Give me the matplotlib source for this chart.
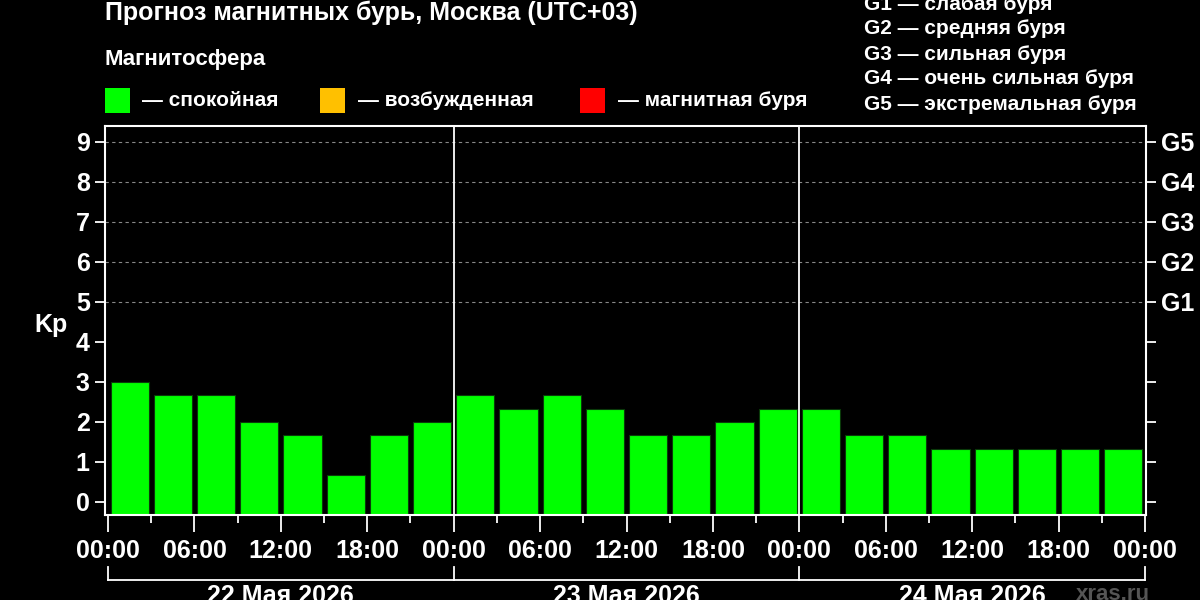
import numpy as np
import matplotlib
matplotlib.use("Agg")
import matplotlib.pyplot as plt
import matplotlib.patches as patches
from matplotlib.ticker import FixedLocator

plt.rcParams['font.family'] = ['Liberation Sans', 'DejaVu Sans']
plt.rcParams['font.weight'] = 'bold'

# Kp forecast, 3-hour intervals over three days
kp_day1 = [3.0, 2.67, 2.67, 2.0, 1.67, 0.67, 1.67, 2.0]
kp_day2 = [2.67, 2.33, 2.67, 2.33, 1.67, 1.67, 2.0, 2.33]
kp_day3 = [2.33, 1.67, 1.67, 1.33, 1.33, 1.33, 1.33, 1.33]
day_labels = ["22 Мая 2026", "23 Мая 2026", "24 Мая 2026"]
hour_labels = ["00:00", "06:00", "12:00", "18:00"]
g_levels = [5, 6, 7, 8, 9]
g_labels = ["G1", "G2", "G3", "G4", "G5"]
g_descr = ["слабая буря", "средняя буря", "сильная буря",
           "очень сильная буря", "экстремальная буря"]
legend_names = ["— спокойная", "— возбужденная", "— магнитная буря"]
legend_colors = ["#00ff00", "#ffc000", "#ff0000"]

kp = np.array(kp_day1 + kp_day2 + kp_day3)
starts = np.arange(len(kp)) * 3.0
ndays = len(day_labels)

W, H = 1200, 600
fig = plt.figure(figsize=(12, 6), dpi=100, facecolor='black')

def fx(px):
    return px / W

def fy(py):
    return 1 - py / H

TICK_FS = 18

ax = fig.add_axes([fx(105), fy(515), fx(1146) - fx(105), fy(126) - fy(515)])
ax.set_facecolor('black')
ymin = -0.33
ax.set_xlim(-0.21, 72.07)
ax.set_ylim(ymin, 9.4)

ax.bar(starts + 1.5, kp - ymin, bottom=ymin, width=2.65,
       color='#00ff00', edgecolor='#0a3a0a', linewidth=0.8, zorder=2)

for lv in g_levels:
    ax.axhline(lv, color='#888888', lw=0.8, ls=(0, (3, 3)), zorder=1)
for d in range(1, ndays):
    ax.axvline(d * 24, color='white', lw=1.3, zorder=3)

for s in ax.spines.values():
    s.set_color('white')
    s.set_linewidth(1.5)

# left y axis
ax.set_yticks(range(0, 10))
ax.tick_params(axis='y', colors='white', labelsize=TICK_FS, length=7, width=1.3, pad=4)
for t in ax.get_yticklabels():
    t.set_fontweight('bold')

# x axis
ax.set_xticks(np.arange(0, 72.1, 6))
ax.set_xticklabels((hour_labels * ndays) + ["00:00"])
ax.xaxis.set_minor_locator(FixedLocator(np.arange(3, 72, 6)))
ax.tick_params(axis='x', which='major', colors='white', labelsize=TICK_FS, length=12, width=1.3, pad=5)
ax.tick_params(axis='x', which='minor', colors='white', length=6, width=1.3)
for t in ax.get_xticklabels():
    t.set_fontweight('bold')

# right axis with storm levels
ax2 = ax.twinx()
ax2.set_ylim(ax.get_ylim())
ax2.set_yticks(range(0, 10))
ax2.set_yticklabels([""] * 5 + g_labels)
ax2.tick_params(axis='y', colors='white', labelsize=TICK_FS, length=7, width=1.3, pad=4)
for t in ax2.get_yticklabels():
    t.set_fontweight('bold')
for s in ax2.spines.values():
    s.set_visible(False)

fig.text(fx(51), fy(325), "Kp", color='white', fontsize=TICK_FS, fontweight='bold',
         ha='center', va='center')

# day brackets under the hour labels
x0, x1 = ax.get_xlim()
def hx(h):
    return fx(105) + (h - x0) / (x1 - x0) * (fx(1146) - fx(105))

fig.add_artist(plt.Line2D([hx(0), hx(72)], [fy(580), fy(580)], color='white', lw=1.3))
for d in range(ndays + 1):
    fig.add_artist(plt.Line2D([hx(d * 24)] * 2, [fy(567), fy(580)], color='white', lw=1.3))
for d, lab in enumerate(day_labels):
    fig.text(hx(d * 24 + 12), fy(584), lab, color='white', fontsize=TICK_FS,
             fontweight='bold', ha='center', va='top')
fig.text(fx(1150), fy(584), "xras.ru", color='#555555', fontsize=16,
         ha='right', va='top')

# header texts
fig.text(fx(105), fy(13), "Прогноз магнитных бурь, Москва (UTC+03)", color='white',
         fontsize=18, fontweight='bold', ha='left', va='center')
fig.text(fx(105), fy(60), "Магнитосфера", color='white',
         fontsize=16, fontweight='bold', ha='left', va='center')

sq_x = [105, 320, 580]
txt_x = [142, 358, 618]
for sx, tx, col, name in zip(sq_x, txt_x, legend_colors, legend_names):
    fig.add_artist(patches.Rectangle((fx(sx), fy(113)), fx(25), fy(88) - fy(113),
                                     facecolor=col, edgecolor='none', transform=fig.transFigure))
    fig.text(fx(tx), fy(100), name, color='white', fontsize=15, fontweight='bold',
             ha='left', va='center')

for i, (g, desc) in enumerate(zip(g_labels, g_descr)):
    fig.text(fx(864), fy(4 + i * 25), g + " — " + desc, color='white', fontsize=15,
             fontweight='bold', ha='left', va='center')

fig.savefig("out.png", dpi=100, facecolor='black')
